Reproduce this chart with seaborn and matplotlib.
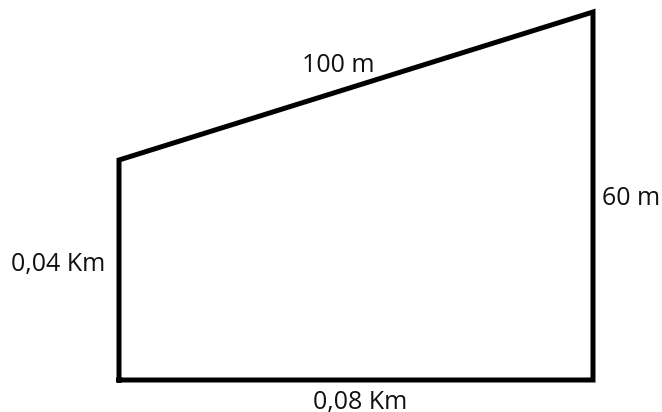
import matplotlib
matplotlib.use('Agg')
import matplotlib.pyplot as plt
import seaborn as sns
import pandas as pd

# outline of the plot of land (pixel space of the original sketch)
corner_x = [119, 593, 593, 119, 119]
corner_y = [380, 380, 12, 160, 380]

side_labels = ['100 m', '60 m', '0,04 Km', '0,08 Km']
label_x = [338, 631, 58, 360]
label_y = [65, 198, 265, 403]

sns.set_style('white')
plt.rcParams['font.family'] = ['Open Sans', 'DejaVu Sans']

fig = plt.figure(figsize=(6.62, 4.12), dpi=100)
ax = fig.add_axes([0, 0, 1, 1])

df = pd.DataFrame({'x': corner_x, 'y': corner_y})
sns.lineplot(data=df, x='x', y='y', sort=False, estimator=None, color='black',
             linewidth=3.6, ax=ax, solid_joinstyle='miter', solid_capstyle='projecting')

for txt, x, y in zip(side_labels, label_x, label_y):
    ax.text(x, y, txt, ha='center', va='center', fontsize=18, color='#111111')

ax.set_xlim(0, 662)
ax.set_ylim(412, 0)
ax.set_axis_off()

fig.savefig('out.png', dpi=100, facecolor='white')
plt.close()
